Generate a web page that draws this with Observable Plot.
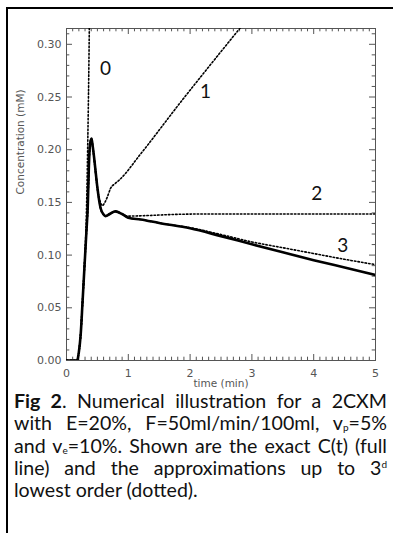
<!DOCTYPE html>
<html>
<head>
<meta charset="utf-8">
<script src="https://cdn.jsdelivr.net/npm/d3@7"></script>
<script src="https://cdn.jsdelivr.net/npm/@observablehq/plot@0.6"></script>
<style>
  html, body { margin: 0; padding: 0; background: #fff; }
  body { width: 393px; height: 533px; overflow: hidden; position: relative; }
  #border { position: absolute; left: 6px; top: 7px; width: 420px; height: 560px;
            border-left: 2px solid #000; border-top: 2px solid #000; }
  #chart { position: absolute; left: 0; top: 0; }
  #caption { position: absolute; left: 14px; top: 390px; width: 373px;
             font-family: Lato, "Open Sans", sans-serif; font-size: 19.6px; line-height: 22.3px; color: #111; }
  #caption .j { text-align: justify; text-align-last: justify; white-space: nowrap; }
  #caption .l { text-align: left; }
  #caption sub, #caption sup { font-size: 10px; line-height: 1; vertical-align: baseline; position: relative; }
  #caption sub { top: 1px; }
  #caption sup { top: -7px; }
</style>
</head>
<body>
<div id="border"></div>
<div id="chart"></div>
<div id="caption">
  <div class="j"><b>Fig 2</b>. Numerical illustration for a 2CXM</div>
  <div class="j">with E=20%, F=50ml/min/100ml, v<sub>p</sub>=5%</div>
  <div class="j">and v<sub>e</sub>=10%. Shown are the exact C(t) (full</div>
  <div class="j">line) and the approximations up to 3<sup>d</sup></div>
  <div class="l">lowest order (dotted).</div>
</div>
<script>
// ---- data ----
const xTicks = [0, 1, 2, 3, 4, 5];
const yTicks = [0, 0.05, 0.10, 0.15, 0.20, 0.25, 0.30];

// exact C(t), full line
const tExact = [0, 0.17, 0.2, 0.23, 0.26, 0.29, 0.32, 0.345, 0.36, 0.38, 0.405, 0.42, 0.44, 0.47, 0.5, 0.55, 0.6, 0.63, 0.7, 0.79, 0.9, 1.0, 1.2, 1.5, 2.0, 2.5, 3.0, 3.5, 4.0, 4.5, 5.0];
const cExact = [0, 0, 0.008, 0.025, 0.056, 0.088, 0.12, 0.148, 0.18, 0.205, 0.2105, 0.205, 0.196, 0.18, 0.164, 0.145, 0.1385, 0.137, 0.139, 0.1415, 0.139, 0.1355, 0.1338, 0.1305, 0.1255, 0.118, 0.1103, 0.1027, 0.0952, 0.0882, 0.0812];

// approximation order 0
const t0 = [0, 0.17, 0.2, 0.23, 0.26, 0.29, 0.315, 0.33, 0.345, 0.36, 0.372];
const c0 = [0, 0, 0.007, 0.026, 0.056, 0.09, 0.125, 0.16, 0.21, 0.27, 0.33];

// approximation order 1
const t1 = [0, 0.17, 0.2, 0.23, 0.26, 0.29, 0.32, 0.345, 0.36, 0.38, 0.405, 0.42, 0.44, 0.47, 0.5, 0.55, 0.58, 0.62, 0.66, 0.71, 0.79, 0.85, 1.2, 1.845, 2.17, 2.9];
const c1 = [0, 0, 0.008, 0.025, 0.056, 0.088, 0.12, 0.148, 0.18, 0.205, 0.2105, 0.205, 0.195, 0.178, 0.163, 0.15, 0.147, 0.15, 0.155, 0.163, 0.168, 0.171, 0.196, 0.245, 0.269, 0.322];

// approximation order 2
const t2 = [0, 0.17, 0.2, 0.23, 0.26, 0.29, 0.32, 0.345, 0.36, 0.38, 0.405, 0.42, 0.44, 0.47, 0.5, 0.55, 0.6, 0.63, 0.7, 0.79, 0.9, 1.0, 1.3, 1.7, 2.2, 3.0, 4.0, 5.0];
const c2 = [0, 0, 0.008, 0.025, 0.056, 0.088, 0.12, 0.148, 0.18, 0.205, 0.2105, 0.205, 0.196, 0.18, 0.164, 0.145, 0.1385, 0.137, 0.139, 0.1415, 0.1388, 0.137, 0.1375, 0.1385, 0.139, 0.139, 0.139, 0.139];

// approximation order 3
const t3 = [0, 0.17, 0.2, 0.23, 0.26, 0.29, 0.32, 0.345, 0.36, 0.38, 0.405, 0.42, 0.44, 0.47, 0.5, 0.55, 0.6, 0.63, 0.7, 0.79, 0.9, 1.0, 1.2, 1.5, 2.0, 2.5, 3.0, 3.5, 4.0, 4.5, 5.0];
const c3 = [0, 0, 0.008, 0.025, 0.056, 0.088, 0.12, 0.148, 0.18, 0.205, 0.2105, 0.205, 0.196, 0.18, 0.164, 0.145, 0.1385, 0.137, 0.139, 0.1415, 0.139, 0.1355, 0.1338, 0.1305, 0.126, 0.1195, 0.1125, 0.107, 0.1015, 0.096, 0.091];

// curve labels
const labelText = ["0", "1", "2", "3"];
const labelT = [0.63, 2.25, 4.05, 4.47];
const labelC = [0.277, 0.2545, 0.1585, 0.109];

// ---- build ----
const rows = (ts, cs) => ts.map((t, i) => ({t, c: cs[i]}));
const exact = rows(tExact, cExact);
const approx = [rows(t0, c0), rows(t1, c1), rows(t2, c2), rows(t3, c3)];
const labels = labelText.map((s, i) => ({s, t: labelT[i], c: labelC[i]}));

const xDomain = [0, 5], yDomain = [0, 0.315];
const xMinor = d3.range(0, 50.5, 1).map(d => d / 10).filter(d => !xTicks.includes(d));
const yMinor = d3.range(0, 31.5, 1).map(d => d / 100).filter(d => d <= 0.315 && !yTicks.some(v => Math.abs(v - d) < 1e-9));
const gray = "#555";
const major = 6, minor = 3.3;

const tickMarks = (vals, len) => [
  Plot.ruleX(vals, {x: d => d, y1: yDomain[0], y2: yDomain[0], insetTop: -len, stroke: gray, strokeWidth: 1}),
  Plot.ruleX(vals, {x: d => d, y1: yDomain[1], y2: yDomain[1], insetBottom: -len, stroke: gray, strokeWidth: 1})
];
const tickMarksY = (vals, len) => [
  Plot.ruleY(vals, {y: d => d, x1: xDomain[0], x2: xDomain[0], insetRight: -len, stroke: gray, strokeWidth: 1}),
  Plot.ruleY(vals, {y: d => d, x1: xDomain[1], x2: xDomain[1], insetLeft: -len, stroke: gray, strokeWidth: 1})
];

const dotted = {stroke: "#000", strokeWidth: 1.6, strokeDasharray: "1.5 2.1", curve: "monotone-x", clip: true};

const chart = Plot.plot({
  width: 393,
  height: 395,
  marginLeft: 66,
  marginRight: 18,
  marginTop: 28,
  marginBottom: 35,
  style: {fontFamily: "'DejaVu Sans', sans-serif", fontSize: "11px", color: "#555", background: "transparent"},
  x: {domain: xDomain},
  y: {domain: yDomain},
  marks: [
    Plot.frame({stroke: gray, strokeWidth: 1}),
    ...tickMarks(xTicks, major),
    ...tickMarks(xMinor, minor),
    ...tickMarksY(yTicks, major),
    ...tickMarksY(yMinor, minor),
    Plot.axisX({ticks: xTicks, tickSize: 0, tickPadding: 9, tickFormat: d3.format("d"), label: null, fill: "#555"}),
    Plot.axisY({ticks: yTicks, tickSize: 0, tickPadding: 5, tickFormat: d3.format(".2f"), label: null, fill: "#555"}),
    Plot.text(["time (min)"], {frameAnchor: "bottom", dy: 26, fontSize: 10.5, fill: "#555"}),
    Plot.text(["Concentration (mM)"], {frameAnchor: "left", dx: -46, rotate: -90, fontSize: 10.5, fill: "#555"}),
    Plot.line(exact, {x: "t", y: "c", stroke: "#000", strokeWidth: 2.6, curve: "monotone-x", clip: true}),
    ...approx.map(a => Plot.line(a, {x: "t", y: "c", ...dotted})),
    Plot.text(labels, {x: "t", y: "c", text: "s", fontFamily: "Lato, 'Open Sans', sans-serif", fontSize: 19, fill: "#111"})
  ]
});
document.getElementById("chart").appendChild(chart);
</script>
</body>
</html>
